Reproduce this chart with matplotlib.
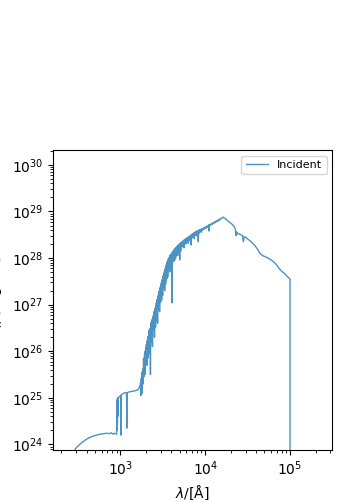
import numpy as np
import matplotlib
matplotlib.use('Agg')
import matplotlib.pyplot as plt

# valores (log10 do comprimento de onda em A, log10 do fluxo)
# parte EUV/FUV, antes do limite de Lyman
lam_euv = [2.40, 2.44, 2.48, 2.52, 2.56, 2.60, 2.64, 2.68, 2.72, 2.76, 2.80,
           2.84, 2.87, 2.89, 2.91, 2.925, 2.94, 2.955]
flux_euv = [23.72, 23.82, 23.93, 24.00, 24.06, 24.11, 24.15, 24.18, 24.20, 24.22, 24.23,
            24.24, 24.23, 24.25, 24.22, 24.24, 24.23, 24.22]

# limite de Lyman ate ~1700 A
lam_fuv = [2.958, 2.960, 2.962, 2.964, 2.966, 2.969, 2.972, 2.976, 2.985, 2.995,
           3.004, 3.006, 3.008, 3.02, 3.04, 3.06, 3.072, 3.075, 3.078, 3.09,
           3.11, 3.14, 3.17, 3.19, 3.21, 3.23]
flux_fuv = [24.95, 24.30, 24.90, 24.45, 25.00, 24.60, 24.98, 25.00, 25.02, 25.04,
            25.05, 24.20, 25.06, 25.08, 25.10, 25.11, 25.10, 24.35, 25.11, 25.12,
            25.13, 25.14, 25.15, 25.16, 25.18, 25.25]

# subida no UV com muitas linhas de absorcao
lam_uv = [3.240, 3.243, 3.246, 3.249, 3.252, 3.255, 3.258, 3.261, 3.264, 3.267,
          3.270, 3.273, 3.276, 3.279, 3.282, 3.285, 3.288, 3.291, 3.294, 3.297,
          3.300, 3.303, 3.306, 3.309, 3.312, 3.315, 3.318, 3.321, 3.324, 3.327,
          3.330, 3.333, 3.336, 3.339, 3.342, 3.345, 3.348, 3.351, 3.354, 3.357,
          3.360, 3.363, 3.366, 3.369, 3.372, 3.375, 3.378, 3.381, 3.384, 3.387,
          3.390, 3.393, 3.396, 3.399, 3.402, 3.405, 3.408, 3.411, 3.414, 3.417,
          3.420, 3.423, 3.426, 3.429, 3.432, 3.435, 3.438, 3.441, 3.444, 3.447,
          3.450, 3.453, 3.456, 3.459, 3.462, 3.465, 3.468, 3.471, 3.474, 3.477,
          3.480, 3.483, 3.486, 3.489, 3.492, 3.495, 3.498, 3.501, 3.504, 3.507,
          3.510, 3.513, 3.516, 3.519, 3.522, 3.525, 3.528, 3.531, 3.534, 3.537,
          3.540, 3.543, 3.546, 3.549, 3.552, 3.555, 3.558, 3.561, 3.564, 3.567,
          3.570, 3.573, 3.576, 3.579, 3.582, 3.585, 3.588, 3.591, 3.594, 3.597,
          3.600, 3.603, 3.606, 3.609, 3.612, 3.615, 3.618, 3.621, 3.624, 3.627,
          3.630, 3.633, 3.636, 3.639, 3.642, 3.645, 3.648, 3.651, 3.654, 3.657,
          3.660, 3.663, 3.666, 3.669, 3.672, 3.675, 3.678, 3.681, 3.684, 3.687,
          3.690, 3.693, 3.696, 3.699, 3.702, 3.705, 3.708, 3.711, 3.714, 3.717]
flux_uv = [25.35, 25.05, 25.42, 25.28, 25.30, 25.55, 25.10, 25.50, 25.62, 25.30,
           25.58, 25.85, 25.45, 25.80, 25.60, 25.95, 25.50, 26.00, 25.78, 25.70,
           26.08, 25.75, 26.15, 26.05, 25.70, 26.22, 26.00, 26.28, 25.85, 26.32,
           26.10, 26.38, 26.25, 26.45, 25.95, 26.48, 26.20, 26.30, 25.50, 26.52,
           26.35, 26.62, 26.20, 26.66, 26.45, 26.68, 26.10, 26.72, 26.55, 26.76,
           26.45, 26.82, 26.60, 26.86, 26.30, 26.88, 26.70, 26.93, 26.52, 26.98,
           26.80, 27.04, 26.65, 27.08, 26.95, 27.12, 26.60, 27.16, 27.00, 27.20,
           26.90, 27.25, 27.10, 27.30, 26.85, 27.34, 27.20, 27.38, 27.05, 27.42,
           27.30, 27.47, 27.10, 27.52, 27.40, 27.55, 27.20, 27.60, 27.48, 27.63,
           27.35, 27.67, 27.55, 27.71, 27.30, 27.75, 27.62, 27.79, 27.45, 27.83,
           27.72, 27.86, 27.55, 27.90, 27.80, 27.93, 27.60, 27.96, 27.85, 27.98,
           27.75, 28.00, 27.90, 28.03, 27.70, 28.05, 27.95, 28.07, 27.82, 28.08,
           28.00, 28.10, 27.88, 27.04, 28.12, 27.96, 28.14, 28.05, 28.15, 27.92,
           28.17, 28.08, 28.18, 27.95, 28.20, 28.12, 28.21, 28.00, 28.22, 28.14,
           28.23, 28.06, 28.25, 28.18, 28.26, 28.05, 28.27, 28.20, 28.28, 28.12,
           28.29, 28.22, 28.30, 27.96, 28.31, 28.25, 28.32, 28.15, 28.33, 28.28]

# parte azul do optico, linhas mais fracas
lam_opt = [3.720, 3.726, 3.732, 3.738, 3.744, 3.750, 3.756, 3.762, 3.768, 3.774,
           3.780, 3.786, 3.792, 3.798, 3.804, 3.810, 3.816, 3.822, 3.828, 3.834,
           3.840, 3.846, 3.852, 3.858, 3.864, 3.870, 3.876, 3.882, 3.888, 3.894,
           3.900, 3.906, 3.912, 3.918, 3.924, 3.930, 3.936, 3.942, 3.948, 3.954]
flux_opt = [28.34, 28.24, 28.36, 28.30, 28.38, 28.22, 28.40, 28.34, 28.41, 28.30,
            28.43, 28.36, 28.44, 28.32, 28.46, 28.40, 28.47, 28.37, 28.49, 28.28,
            28.51, 28.44, 28.52, 28.47, 28.54, 28.42, 28.55, 28.50, 28.57, 28.48,
            28.58, 28.53, 28.59, 28.35, 28.60, 28.54, 28.61, 28.57, 28.62, 28.55]

# optico vermelho e IR ate o corte em 1e5 A
lam_ir = [3.960, 3.970, 3.980, 3.990, 4.000, 4.010, 4.020, 4.030, 4.040, 4.045,
          4.050, 4.060, 4.070, 4.080, 4.090, 4.100, 4.110, 4.120, 4.130, 4.140,
          4.150, 4.160, 4.170, 4.180, 4.190, 4.200, 4.210, 4.225, 4.240,
          4.260, 4.280, 4.300, 4.320, 4.340, 4.355, 4.365, 4.372, 4.380, 4.400,
          4.420, 4.440, 4.450, 4.460, 4.480, 4.500, 4.530, 4.560, 4.590, 4.620,
          4.650, 4.680, 4.720, 4.760, 4.800, 4.840, 4.870, 4.900, 4.940, 4.970,
          5.000, 5.0001]
flux_ir = [28.63, 28.60, 28.65, 28.62, 28.67, 28.64, 28.69, 28.66, 28.71, 28.58,
           28.72, 28.70, 28.74, 28.72, 28.76, 28.74, 28.78, 28.76, 28.80, 28.78,
           28.82, 28.80, 28.84, 28.83, 28.86, 28.86, 28.88, 28.86, 28.84,
           28.81, 28.78, 28.75, 28.72, 28.68, 28.62, 28.48, 28.56, 28.52, 28.52,
           28.50, 28.48, 28.35, 28.46, 28.44, 28.41, 28.37, 28.32, 28.26, 28.18,
           28.09, 28.05, 28.02, 27.98, 27.93, 27.86, 27.78, 27.72, 27.66, 27.60,
           27.55, 22.0]

lam = 10 ** np.array(lam_euv + lam_fuv + lam_uv + lam_opt + lam_ir)
flux = 10 ** np.array(flux_euv + flux_fuv + flux_uv + flux_opt + flux_ir)

fig = plt.figure(figsize=(3.5, 5), dpi=100)
ax = fig.add_axes([0.151, 0.1, 0.798, 0.6])
ax.plot(lam, flux, color='C0', alpha=0.8, lw=1, label='Incident')
ax.set_xscale('log')
ax.set_yscale('log')
ax.set_xlim(10 ** 2.203, 10 ** 5.497)
ax.set_ylim(10 ** 23.88, 10 ** 30.32)
ax.set_xlabel(r'$\lambda/[\mathrm{\AA}]$')
ax.set_ylabel(r'$\lambda L_{\lambda}/[\mathrm{erg\,s^{-1}}]$')
ax.legend(loc='upper right', fontsize=8)
fig.savefig('out.png', dpi=100)
